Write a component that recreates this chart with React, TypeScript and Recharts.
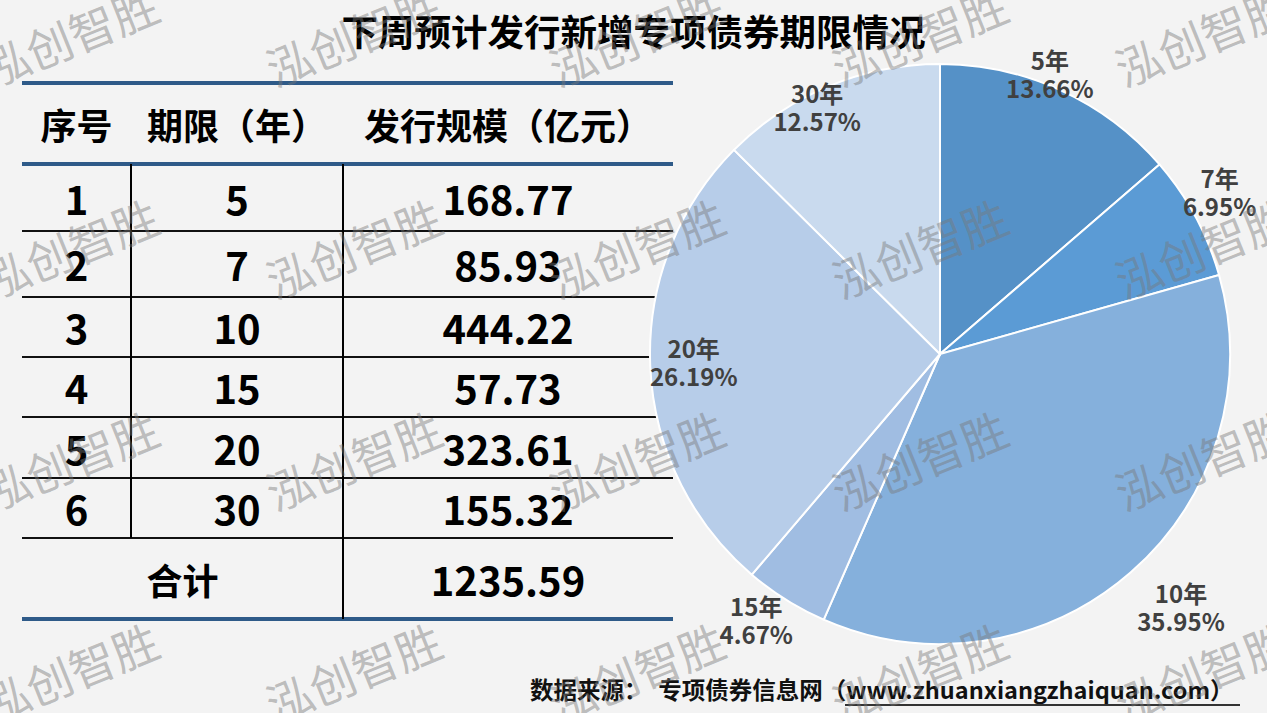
import { PieChart, Pie, Cell } from 'recharts'

// table + pie data
const serials = ['1', '2', '3', '4', '5', '6']
const terms = [5, 7, 10, 15, 20, 30]
const amounts = [168.77, 85.93, 444.22, 57.73, 323.61, 155.32]
const totalAmount = '1235.59'
const headers = ['序号', '期限（年）', '发行规模（亿元）']

const sliceColors = ['#5591c7', '#5b9bd5', '#85b0dc', '#a0bde2', '#b7cde9', '#c9daee']
// label placement: distance from centre (x outer radius) and a clockwise nudge in degrees
const labelRadius = [1.03, 1.11, 1.21, 1.12, 0.85, 0.945]
const labelShift = [-3, -1.4, -2.3, 2.4, 0, -4]

const W = 1267
const H = 713
const FONT = '"Noto Sans CJK SC", "Noto Sans", sans-serif'

// table grid
const colX = [22, 131, 343, 673]
const rowY = [83, 164, 231, 297, 357, 417, 478, 538, 619]

const pieData = terms.map((t, i) => ({ name: `${t}年`, value: amounts[i] }))

const renderLabel = (props: any) => {
  const { cx, cy, midAngle, outerRadius, percent, name, index } = props
  const r = outerRadius * labelRadius[index]
  const a = (-(midAngle - labelShift[index]) * Math.PI) / 180
  const x = cx + r * Math.cos(a)
  const y = cy + r * Math.sin(a)
  return (
    <text x={x} y={y} textAnchor="middle" fill="#404040" fontSize={24} fontWeight="bold" fontFamily={FONT}>
      <tspan x={x} dy={-6}>{name}</tspan>
      <tspan x={x} dy={28}>{(percent * 100).toFixed(2)}%</tspan>
    </text>
  )
}

function CellText({ left, right, top, bottom, text, size }: any) {
  return (
    <div
      style={{
        position: 'absolute',
        left,
        top,
        width: right - left,
        height: bottom - top,
        display: 'flex',
        alignItems: 'center',
        justifyContent: 'center',
        fontSize: size,
        fontWeight: 'bold',
        color: '#000',
        whiteSpace: 'nowrap',
      }}
    >
      {text}
    </div>
  )
}

function HLine({ y, color, thick }: any) {
  return (
    <div
      style={{
        position: 'absolute',
        left: colX[0],
        top: y - thick / 2,
        width: colX[3] - colX[0],
        height: thick,
        background: color,
      }}
    />
  )
}

function VLine({ x, y1, y2 }: any) {
  return <div style={{ position: 'absolute', left: x - 0.75, top: y1, width: 1.5, height: y2 - y1, background: '#000' }} />
}

export default function App() {
  const watermarks: { x: number; y: number }[] = []
  for (let j = 0; j < 4; j++) {
    for (let i = 0; i < 5; i++) watermarks.push({ x: 70 + 283 * i, y: 35 + 212 * j })
  }

  const lastRow = rowY.length - 2

  return (
    <div
      style={{
        position: 'fixed',
        left: 0,
        top: 0,
        width: W,
        height: H,
        background: '#f3f3f3',
        overflow: 'hidden',
        fontFamily: FONT,
      }}
    >
      <div
        style={{
          position: 'absolute',
          left: 0,
          top: 8,
          width: W,
          textAlign: 'center',
          fontSize: 36.5,
          fontWeight: 'bold',
          lineHeight: '46px',
          color: '#000',
        }}
      >
        下周预计发行新增专项债券期限情况
      </div>

      {/* table */}
      {headers.map((h, i) => (
        <CellText key={h} left={colX[i]} right={colX[i + 1]} top={rowY[0]} bottom={rowY[1]} text={h} size={36} />
      ))}
      {serials.map((s, r) => (
        <div key={s}>
          <CellText left={colX[0]} right={colX[1]} top={rowY[r + 1]} bottom={rowY[r + 2]} text={s} size={40} />
          <CellText left={colX[1]} right={colX[2]} top={rowY[r + 1]} bottom={rowY[r + 2]} text={terms[r]} size={40} />
          <CellText
            left={colX[2]}
            right={colX[3]}
            top={rowY[r + 1]}
            bottom={rowY[r + 2]}
            text={amounts[r].toFixed(2)}
            size={40}
          />
        </div>
      ))}
      <CellText left={colX[0]} right={colX[2]} top={rowY[lastRow]} bottom={rowY[lastRow + 1]} text="合计" size={36} />
      <CellText left={colX[2]} right={colX[3]} top={rowY[lastRow]} bottom={rowY[lastRow + 1]} text={totalAmount} size={40} />

      {rowY.map((y, i) => {
        const outer = i === 0 || i === 1 || i === rowY.length - 1
        return <HLine key={y} y={y} color={outer ? '#2e5a88' : '#111'} thick={outer ? (i === rowY.length - 1 ? 4 : 3.5) : 1.5} />
      })}
      <VLine x={colX[1]} y1={rowY[1]} y2={rowY[lastRow]} />
      <VLine x={colX[2]} y1={rowY[1]} y2={rowY[lastRow + 1]} />

      {/* pie */}
      <div style={{ position: 'absolute', left: 0, top: 0 }}>
        <PieChart width={W} height={H} margin={{ top: 0, right: 0, bottom: 0, left: 0 }}>
          <Pie
            data={pieData}
            dataKey="value"
            nameKey="name"
            cx={940}
            cy={354}
            outerRadius={290}
            startAngle={90}
            endAngle={-270}
            stroke="#fff"
            strokeWidth={2}
            label={renderLabel}
            labelLine={false}
            isAnimationActive={false}
          >
            {pieData.map((d, i) => (
              <Cell key={d.name} fill={sliceColors[i]} />
            ))}
          </Pie>
        </PieChart>
      </div>

      {/* source */}
      <div
        style={{
          position: 'absolute',
          left: 530,
          top: 674,
          fontSize: 23.5,
          fontWeight: 'bold',
          lineHeight: '30px',
          color: '#111',
          whiteSpace: 'nowrap',
        }}
      >
        数据来源：&nbsp;&nbsp;专项债券信息网（www.zhuanxiangzhaiquan.com）
      </div>
      <div style={{ position: 'absolute', left: 845, top: 704, width: 395, height: 1.5, background: '#333' }} />

      {/* watermark */}
      {watermarks.map((w, i) => (
        <div
          key={i}
          style={{
            position: 'absolute',
            left: w.x - 100,
            top: w.y - 30,
            width: 200,
            height: 60,
            lineHeight: '60px',
            textAlign: 'center',
            fontSize: 46,
            color: 'rgba(120,120,120,0.45)',
            transform: 'rotate(-22deg)',
            pointerEvents: 'none',
            whiteSpace: 'nowrap',
          }}
        >
          泓创智胜
        </div>
      ))}
    </div>
  )
}
